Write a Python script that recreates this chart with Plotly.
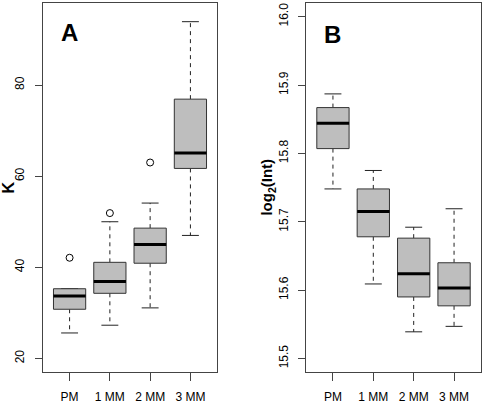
import plotly.graph_objects as go

groups = ["PM", "1 MM", "2 MM", "3 MM"]

# Panel A (K)
A_lo = [25.6, 27.3, 31.1, 47.0]
A_q1 = [30.8, 34.3, 40.9, 61.7]
A_med = [33.7, 36.9, 45.0, 65.1]
A_q3 = [35.3, 41.1, 48.6, 76.9]
A_hi = [35.3, 50.0, 54.1, 93.9]
A_out_group = ["PM", "1 MM", "2 MM"]
A_out_val = [42.1, 51.9, 63.0]

# Panel B (log2(Int))
B_lo = [15.748, 15.609, 15.539, 15.547]
B_q1 = [15.807, 15.678, 15.590, 15.577]
B_med = [15.844, 15.715, 15.624, 15.603]
B_q3 = [15.867, 15.748, 15.676, 15.640]
B_hi = [15.887, 15.775, 15.692, 15.719]
B_out_group = []
B_out_val = []

A_ticks = [20, 40, 60, 80]
B_ticks = [15.5, 15.6, 15.7, 15.8, 15.9, 16.0]

W, H = 484, 404
FONT = "Liberation Sans, Arial, Helvetica, sans-serif"
BOXW = 0.4   # half box width
STAPW = 0.21  # half staple width

fig = go.Figure()


def add_boxes(xa, ya, lo, q1, med, q3, hi, og, ov):
    for i, g in enumerate(groups):
        x = i + 1
        # whiskers (dashed)
        fig.add_trace(go.Scatter(
            x=[x, x, None, x, x], y=[q3[i], hi[i], None, q1[i], lo[i]],
            mode="lines", line=dict(color="#222", width=1, dash="4px,4px"),
            xaxis=xa, yaxis=ya, hoverinfo="skip", showlegend=False))
        # staples
        fig.add_trace(go.Scatter(
            x=[x - STAPW, x + STAPW, None, x - STAPW, x + STAPW],
            y=[hi[i], hi[i], None, lo[i], lo[i]],
            mode="lines", line=dict(color="#222", width=1),
            xaxis=xa, yaxis=ya, hoverinfo="skip", showlegend=False))
        # box
        fig.add_trace(go.Scatter(
            x=[x - BOXW, x + BOXW, x + BOXW, x - BOXW, x - BOXW],
            y=[q1[i], q1[i], q3[i], q3[i], q1[i]],
            mode="lines", fill="toself", fillcolor="#BEBEBE",
            line=dict(color="#333", width=1),
            xaxis=xa, yaxis=ya, hoverinfo="skip", showlegend=False))
        # median
        fig.add_trace(go.Scatter(
            x=[x - BOXW, x + BOXW], y=[med[i], med[i]],
            mode="lines", line=dict(color="black", width=3),
            xaxis=xa, yaxis=ya, hoverinfo="skip", showlegend=False))
    if og:
        fig.add_trace(go.Scatter(
            x=[groups.index(g) + 1 for g in og], y=ov, mode="markers",
            marker=dict(symbol="circle-open", size=7, color="black",
                        line=dict(width=1)),
            xaxis=xa, yaxis=ya, hoverinfo="skip", showlegend=False))


add_boxes("x", "y", A_lo, A_q1, A_med, A_q3, A_hi, A_out_group, A_out_val)
add_boxes("x2", "y2", B_lo, B_q1, B_med, B_q3, B_hi, B_out_group, B_out_val)

ydom = [(H - 374) / H, (H - 3) / H]

common_x = dict(range=[0.34, 4.66], tickvals=[1, 2, 3, 4], ticktext=groups,
                ticks="outside", ticklen=8, tickcolor="#444", tickwidth=1,
                showline=True, linecolor="#444", linewidth=1, mirror=True,
                showgrid=False, zeroline=False, ticklabelstandoff=5,
                tickfont=dict(family=FONT, size=12, color="black"))
common_y = dict(ticks="outside", ticklen=7, tickcolor="#444", tickwidth=1,
                showline=True, linecolor="#444", linewidth=1, mirror=True,
                showgrid=False, zeroline=False, tickangle=-90,
                ticklabelstandoff=6,
                tickfont=dict(family=FONT, size=12, color="black"))

fig.update_layout(
    width=W, height=H,
    margin=dict(l=0, r=0, t=0, b=0),
    paper_bgcolor="white", plot_bgcolor="white",
    showlegend=False,
    xaxis=dict(domain=[43 / W, 217 / W], anchor="y", **common_x),
    yaxis=dict(domain=ydom, anchor="x", range=[17, 98],
               tickvals=A_ticks, ticktext=[str(t) for t in A_ticks], **common_y),
    xaxis2=dict(domain=[306.3 / W, 480.7 / W], anchor="y2", **common_x),
    yaxis2=dict(domain=ydom, anchor="x2", range=[15.48, 16.02],
                tickvals=B_ticks, ticktext=[f"{t:.1f}" for t in B_ticks], **common_y),
    annotations=[
        dict(text="<b>A</b>", x=1, y=91.5, xref="x", yref="y", showarrow=False,
             font=dict(family=FONT, size=24, color="black")),
        dict(text="<b>B</b>", x=1, y=15.974, xref="x2", yref="y2", showarrow=False,
             font=dict(family=FONT, size=24, color="black")),
        dict(text="<b>K</b>", x=9 / W, y=1 - 188.5 / H, xref="paper", yref="paper",
             textangle=-90, showarrow=False, xanchor="center", yanchor="middle",
             font=dict(family=FONT, size=16, color="black")),
        dict(text="<b>log<sub>2</sub>(Int)</b>", x=268 / W, y=1 - 188.5 / H,
             xref="paper", yref="paper", textangle=-90, showarrow=False,
             xanchor="center", yanchor="middle",
             font=dict(family=FONT, size=15, color="black")),
    ],
)

fig.write_html(
    "out.html",
    config={"displayModeBar": False},
    post_script="document.body.style.margin='0px';document.body.style.overflow='hidden';",
)
